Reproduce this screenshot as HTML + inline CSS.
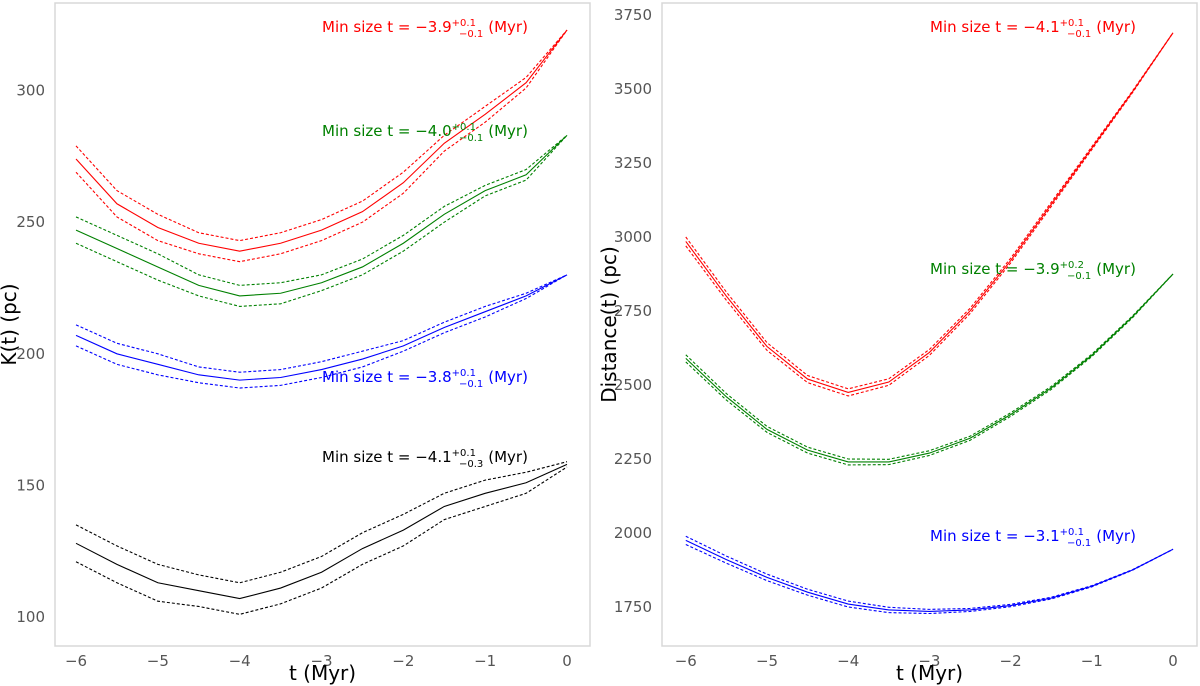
<!DOCTYPE html>
<html><head><meta charset="utf-8"><style>
html,body{margin:0;padding:0;background:#fff;}
svg{display:block;font-family:"DejaVu Sans","Liberation Sans",sans-serif;}
</style></head><body>
<svg id="chart" width="1200" height="686" viewBox="0 0 1200 686"></svg>
<script>
const times = [-6,-5.5,-5,-4.5,-4,-3.5,-3,-2.5,-2,-1.5,-1,-0.5,0];
const xTicks = [-6,-5,-4,-3,-2,-1,0];
const leftYTicks = [100,150,200,250,300];
const rightYTicks = [1750,2000,2250,2500,2750,3000,3250,3500,3750];
const kRed = [274,257,248,242,239,242,247,254,265,280,291,303,323];
const kGreen = [247,240,233,226,222,223,227,233,242,253,262,268,283];
const kBlue = [207,200,196,192,190,191,194,198,203,210,216,222,230];
const kBlack = [128,120,113,110,107,111,117,126,133,142,147,151,158];
const kRedErr = [5,5,5,4,4,4,4,4,4,3,3,2,0];
const kGreenErr = [5,5,5,4,4,4,3,3,3,3,2,2,0];
const kBlueErr = [4,4,4,3,3,3,3,3,2,2,2,1,0];
const kBlackErr = [7,7,7,6,6,6,6,6,6,5,5,4,1];
const dRed = [2985,2800,2630,2520,2475,2510,2610,2750,2920,3110,3300,3490,3690];
const dGreen = [2590,2460,2350,2280,2240,2240,2270,2320,2400,2490,2600,2730,2875];
const dBlue = [1975,1910,1850,1800,1760,1740,1735,1740,1755,1780,1820,1875,1945];
const dRedErr = [15,14,13,12,12,11,10,9,8,7,5,3,0];
const dGreenErr = [12,11,10,10,10,9,8,7,6,5,4,3,0];
const dBlueErr = [14,12,11,10,10,9,7,5,4,3,2,1,0];

const svg = document.getElementById('chart');
const NS = 'http://www.w3.org/2000/svg';
function mk(tag, attrs, parent){const e=document.createElementNS(NS,tag);for(const k in attrs)e.setAttribute(k,attrs[k]);(parent||svg).appendChild(e);return e;}

function panel(id, box, xs, ys, yTicks, yLabel, yTitleX, series, notes){
  const g = mk('g',{});
  
  
  const fr = mk('rect',{x:box.x0,y:box.y0,width:box.x1-box.x0,height:box.y1-box.y0,fill:'none',stroke:'#d8d8d8','stroke-width':1.5},g);
  
  
  xTicks.forEach(t=>{
    const tx = mk('text',{x:xs(t),y:box.y1+20,'text-anchor':'middle','font-size':15,fill:'#555'},g);
    tx.textContent = t<0 ? '\u2212'+Math.abs(t) : String(t);
    
    
  });
  yTicks.forEach(v=>{
    const ty = mk('text',{x:box.x0-10,y:ys(v)+5,'text-anchor':'end','font-size':15,fill:'#555'},g);
    ty.textContent = v;
    
    
  });
  const xl = mk('text',{x:(box.x0+box.x1)/2,y:680,'text-anchor':'middle','font-size':20,fill:'#000'},g);
  xl.textContent='t (Myr)';
  
  
  const yx = yTitleX, yy=(box.y0+box.y1)/2;
  const yl = mk('text',{x:yx,y:yy,'text-anchor':'middle','font-size':20,fill:'#000',transform:`rotate(-90 ${yx} ${yy})`},g);
  yl.textContent=yLabel;
  
  
  series.forEach(s=>{
    const line=(vals,dash,name)=>{
      const p = mk('polyline',{points:times.map((t,i)=>xs(t)+','+ys(vals[i])).join(' '),fill:'none',stroke:s.color,'stroke-width':1.1,'stroke-dasharray':dash},g);
      
      
    };
    line(s.vals.map((v,i)=>v+s.err[i]),'3 2',id+'-'+s.name+'-upper');
    line(s.vals,'none',id+'-'+s.name+'-line');
    line(s.vals.map((v,i)=>v-s.err[i]),'3 2',id+'-'+s.name+'-lower');
  });
  notes.forEach(n=>{
    const t = mk('text',{x:n.x,y:n.y,'font-size':15,fill:n.color},g);
    
    
    t.appendChild(document.createTextNode('Min size t = \u2212'+n.v));
    const sup = mk('tspan',{'font-size':10,dy:-6},t); sup.textContent='+'+n.up;
    const sub = mk('tspan',{'font-size':10,dx:-17,dy:11},t); sub.textContent='\u2212'+n.dn;
    const rest = mk('tspan',{dy:-5,dx:5},t); rest.textContent='(Myr)';
  });
}

const L = {x0:55,x1:590,y0:3,y1:646};
panel('left', L, t=>567+t*81.83, v=>617-(v-100)*2.632, leftYTicks, 'K(t) (pc)', 16,
 [{name:'red',color:'#ff0000',vals:kRed,err:kRedErr},{name:'green',color:'#008000',vals:kGreen,err:kGreenErr},
  {name:'blue',color:'#0000ff',vals:kBlue,err:kBlueErr},{name:'black',color:'#000',vals:kBlack,err:kBlackErr}],
 [{name:'red',color:'#ff0000',x:322,y:32,v:'3.9',up:'0.1',dn:'0.1'},
  {name:'green',color:'#008000',x:322,y:136,v:'4.0',up:'0.1',dn:'0.1'},
  {name:'blue',color:'#0000ff',x:322,y:382,v:'3.8',up:'0.1',dn:'0.1'},
  {name:'black',color:'#000',x:322,y:462,v:'4.1',up:'0.1',dn:'0.3'}]);
const R = {x0:662,x1:1197,y0:3,y1:646};
panel('right', R, t=>1173+t*81.2, v=>607-(v-1750)*0.296, rightYTicks, 'Distance(t) (pc)', 616,
 [{name:'red',color:'#ff0000',vals:dRed,err:dRedErr},{name:'green',color:'#008000',vals:dGreen,err:dGreenErr},
  {name:'blue',color:'#0000ff',vals:dBlue,err:dBlueErr}],
 [{name:'red',color:'#ff0000',x:930,y:32,v:'4.1',up:'0.1',dn:'0.1'},
  {name:'green',color:'#008000',x:930,y:274,v:'3.9',up:'0.2',dn:'0.1'},
  {name:'blue',color:'#0000ff',x:930,y:541,v:'3.1',up:'0.1',dn:'0.1'}]);
</script>
</body></html>
